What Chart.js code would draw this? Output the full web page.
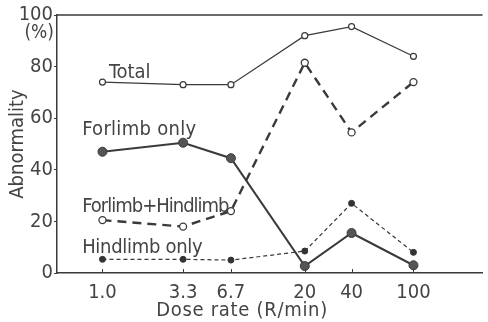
<!DOCTYPE html>
<html>
<head>
<meta charset="utf-8">
<script src="https://cdn.jsdelivr.net/npm/chart.js@4/dist/chart.umd.min.js"></script>
<style>
  html, body { margin: 0; padding: 0; background: #fff; }
  #wrap { width: 488px; height: 322px; }
</style>
</head>
<body>
<div id="wrap"><canvas id="c" width="488" height="322"></canvas></div>
<script>
// Dose rate (R/min) on a log axis
const doseRates = [1.0, 3.3, 6.7, 20, 40, 100];
const doseLabels = ['1.0', '3.3', '6.7', '20', '40', '100'];

// Abnormality (%) per group
const total          = [74, 73, 73, 92, 95.5, 84];
const foreHind       = [20.5, 18, 24, 81.5, 54.5, 74];
const forelimbOnly   = [47, 50.5, 44.5, 2.7, 15.5, 3];
const hindlimbOnly   = [5.3, 5.3, 5, 8.5, 27, 8];

const yTicks = [0, 20, 40, 60, 80, 100];

// Series names written beside the curves: [text, x (R/min), y (%)]
const seriesLabels = [
  ['Total', 1.1, 75.5],
  ['Forlimb only', 0.74, 53.5],
  ['Forlimb+Hindlimb', 0.74, 23.6],
  ['Hindlimb only', 0.74, 7.8]
];
// letter spacing used for each series name
const labelSpacing = { 'Total': '0px', 'Forlimb only': '0.3px', 'Forlimb+Hindlimb': '-1px', 'Hindlimb only': '-0.3px' };

const INK = '#3a3a3a';
const TEXT = '#444';
const COND = '"DejaVu Sans Condensed", "DejaVu Sans", sans-serif';

const pts = arr => doseRates.map((x, i) => ({ x, y: arr[i] }));

const decor = {
  id: 'decor',
  afterDraw(chart) {
    const { ctx, chartArea: a, scales: { x, y } } = chart;
    ctx.save();
    // top frame line
    ctx.strokeStyle = INK;
    ctx.lineWidth = 1.5;
    ctx.beginPath();
    ctx.moveTo(a.left, a.top);
    ctx.lineTo(a.right, a.top);
    ctx.stroke();
    // inward tick marks on the dose axis
    ctx.lineWidth = 1;
    doseRates.forEach(v => {
      const px = Math.round(x.getPixelForValue(v)) + 0.5;
      ctx.beginPath();
      ctx.moveTo(px, a.bottom);
      ctx.lineTo(px, a.bottom - 4);
      ctx.stroke();
    });
    ctx.fillStyle = TEXT;
    // unit under the top tick label
    ctx.font = '19px ' + COND;
    ctx.textAlign = 'right';
    ctx.textBaseline = 'middle';
    ctx.fillText('(%)', a.left - 3, y.getPixelForValue(100) + 18);
    // series names
    ctx.font = '20px ' + COND;
    ctx.textAlign = 'left';
    ctx.textBaseline = 'alphabetic';
    seriesLabels.forEach(([t, vx, vy]) => {
      ctx.letterSpacing = labelSpacing[t] || '0px';
      ctx.fillText(t, x.getPixelForValue(vx), y.getPixelForValue(vy));
    });
    // x axis title
    ctx.letterSpacing = '0.7px';
    ctx.textAlign = 'center';
    ctx.fillText('Dose rate (R/min)', x.getPixelForValue(7.9), a.bottom + 43);
    // y axis title
    ctx.letterSpacing = '0px';
    ctx.translate(18, (a.top + a.bottom) / 2);
    ctx.rotate(-Math.PI / 2);
    ctx.textBaseline = 'middle';
    ctx.fillText('Abnormality', 0, 0);
    ctx.restore();
  }
};

new Chart(document.getElementById('c'), {
  type: 'line',
  data: {
    datasets: [
      {
        label: 'Total',
        data: pts(total),
        borderColor: INK, borderWidth: 1.2,
        pointRadius: 3, pointBackgroundColor: '#fff', pointBorderColor: INK, pointBorderWidth: 1.2
      },
      {
        label: 'Forlimb+Hindlimb',
        data: pts(foreHind),
        borderColor: INK, borderWidth: 2.4, borderDash: [9, 6],
        pointRadius: 3.5, pointBackgroundColor: '#fff', pointBorderColor: INK, pointBorderWidth: 1.3
      },
      {
        label: 'Forlimb only',
        data: pts(forelimbOnly),
        borderColor: INK, borderWidth: 2,
        pointRadius: 4.5, pointBackgroundColor: '#555', pointBorderColor: INK, pointBorderWidth: 1
      },
      {
        label: 'Hindlimb only',
        data: pts(hindlimbOnly),
        borderColor: INK, borderWidth: 1.2, borderDash: [4, 3],
        pointRadius: 3, pointBackgroundColor: '#333', pointBorderColor: '#333', pointBorderWidth: 1
      }
    ]
  },
  options: {
    responsive: false,
    animation: false,
    clip: false,
    layout: { padding: { top: 15, right: 0, left: 0, bottom: 0 } },
    plugins: { legend: { display: false }, tooltip: { enabled: false } },
    scales: {
      x: {
        type: 'logarithmic',
        min: 0.51,
        max: 278,
        afterBuildTicks: s => { s.ticks = doseRates.map(v => ({ value: v })); },
        afterFit: s => { s.height = 49; },
        border: { color: INK, width: 1.5 },
        grid: { display: true, drawOnChartArea: false, drawTicks: false },
        ticks: {
          autoSkip: false, maxRotation: 0, padding: 8,
          color: TEXT,
          font: { family: COND, size: 20 },
          callback: (v, i) => doseLabels[i]
        }
      },
      y: {
        min: 0,
        max: 100,
        afterBuildTicks: s => { s.ticks = yTicks.map(v => ({ value: v })); },
        afterFit: s => { s.width = 57; },
        border: { color: INK, width: 1.5 },
        grid: { drawOnChartArea: false, drawTicks: true, tickLength: 3, color: INK },
        ticks: {
          padding: 1,
          color: TEXT,
          font: { family: COND, size: 20 }
        }
      }
    }
  },
  plugins: [decor]
});
</script>
</body>
</html>
